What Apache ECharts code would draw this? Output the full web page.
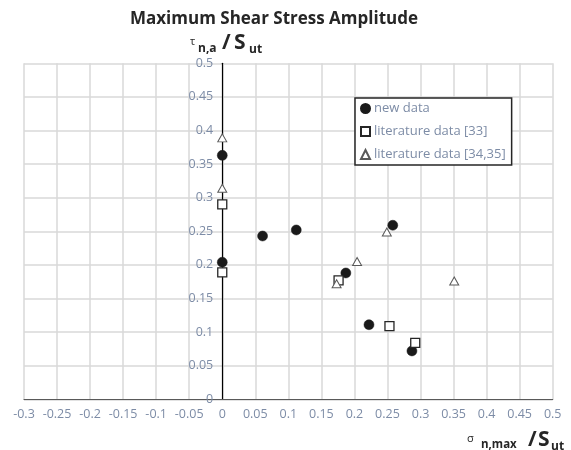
<!DOCTYPE html>
<html>
<head>
<meta charset="utf-8">
<title>Maximum Shear Stress Amplitude</title>
<script src="https://cdn.jsdelivr.net/npm/echarts@6/dist/echarts.min.js"></script>
<style>
  html, body { margin: 0; padding: 0; background: #ffffff; }
  #chart { width: 571px; height: 450px; }
</style>
</head>
<body>
<div id="chart"></div>
<script>
// Normalised stresses: sigma_n,max / S_ut (x) and tau_n,a / S_ut (y)
const newDataX = [0.000, 0.000, 0.061, 0.112, 0.187, 0.222, 0.258, 0.287];
const newDataY = [0.363, 0.204, 0.243, 0.252, 0.188, 0.111, 0.259, 0.072];

const lit33X = [0.000, 0.000, 0.176, 0.253, 0.292];
const lit33Y = [0.290, 0.189, 0.177, 0.109, 0.084];

const lit3435X = [0.000, 0.000, 0.173, 0.204, 0.249, 0.351];
const lit3435Y = [0.389, 0.314, 0.172, 0.205, 0.249, 0.176];

const seriesNames = ['new data', 'literature data [33]', 'literature data [34,35]'];

// Axis ranges and tick step
const xRange = [-0.3, 0.5];
const yRange = [0, 0.5];
const tickStep = 0.05;

const FONT = 'Open Sans';
const LABEL_COLOR = '#7d8ca6';

// Plot area
const GRID = { left: 24, right: 18.3, top: 63.3, bottom: 50.7 };
const CHART_W = 571;
const plotW = CHART_W - GRID.left - GRID.right;
// The vertical axis sits where x = 0, labels included
const yAxisOffset = -((0 - xRange[0]) / (xRange[1] - xRange[0])) * plotW;

function pairs(xs, ys) {
  return xs.map((x, i) => [x, ys[i]]);
}

function fmt(v) {
  return String(Math.round(v * 100) / 100);
}

const chart = echarts.init(document.getElementById('chart'), null, { renderer: 'canvas' });

const txt = (text, x, y, size, bold, align) => ({
  type: 'text',
  x: x, y: y,
  style: {
    text: text,
    font: (bold ? 'bold ' : '') + size + 'px "' + FONT + '"',
    fill: '#262626',
    textAlign: align || 'left',
    textVerticalAlign: 'middle'
  }
});

chart.setOption({
  animation: false,
  backgroundColor: '#ffffff',
  grid: {
    left: GRID.left, right: GRID.right, top: GRID.top, bottom: GRID.bottom,
    containLabel: false, outerBoundsMode: 'none'
  },
  xAxis: {
    type: 'value',
    min: xRange[0], max: xRange[1], interval: tickStep,
    axisLine: { onZero: true, lineStyle: { color: '#595959', width: 1.2 } },
    axisTick: { show: false },
    axisLabel: {
      margin: 9, color: LABEL_COLOR, fontFamily: FONT, fontSize: 12.5,
      formatter: fmt, showMinLabel: true, showMaxLabel: true
    },
    splitLine: { show: true, lineStyle: { color: '#d9d9d9', width: 1.5 } }
  },
  yAxis: {
    type: 'value',
    position: 'left',
    offset: yAxisOffset,
    min: yRange[0], max: yRange[1], interval: tickStep,
    axisLine: { onZero: false, lineStyle: { color: '#000000', width: 1.2 } },
    axisTick: { show: false },
    axisLabel: {
      margin: 9, color: LABEL_COLOR, fontFamily: FONT, fontSize: 12.5,
      formatter: fmt, showMinLabel: true, showMaxLabel: true
    },
    splitLine: { show: true, lineStyle: { color: '#d9d9d9', width: 1.5 } }
  },
  legend: {
    data: seriesNames,
    orient: 'vertical',
    left: 355, top: 98,
    padding: [4, 6, 4, 5],
    itemGap: 10,
    itemWidth: 9, itemHeight: 9,
    backgroundColor: '#ffffff',
    borderColor: '#262626', borderWidth: 1.5, borderRadius: 0,
    textStyle: { color: LABEL_COLOR, fontFamily: FONT, fontSize: 13, padding: [0, 0, 0, -1] }
  },
  series: [
    {
      name: seriesNames[0], type: 'scatter', symbol: 'circle', symbolSize: 10,
      itemStyle: { color: '#1a1a1a', borderColor: '#1a1a1a', borderWidth: 0.5, opacity: 1 },
      data: pairs(newDataX, newDataY), z: 3
    },
    {
      name: seriesNames[1], type: 'scatter', symbol: 'rect', symbolSize: 9,
      itemStyle: { color: '#ffffff', borderColor: '#262626', borderWidth: 1.3, opacity: 1 },
      data: pairs(lit33X, lit33Y), z: 4
    },
    {
      name: seriesNames[2], type: 'scatter', symbol: 'triangle', symbolSize: [9, 8],
      itemStyle: { color: '#ffffff', borderColor: '#595959', borderWidth: 1, opacity: 1 },
      data: pairs(lit3435X, lit3435Y), z: 5
    }
  ],
  graphic: [
    txt('Maximum Shear Stress Amplitude', 274, 19, 17, true, 'center'),
    // y-axis name: tau_{n,a} / S_ut
    txt('\u03c4', 190, 42, 11, false),
    txt('n,a', 198, 49, 12, true),
    txt('/', 222, 43, 21, true),
    txt('S', 234, 43, 21, true),
    txt('ut', 249, 50, 12, true),
    // x-axis name: sigma_{n,max} / S_ut
    txt('\u03c3', 467, 439, 11, false),
    txt('n,max', 481, 445, 11.5, true),
    txt('/', 528, 440, 21, true),
    txt('S', 538, 440, 21, true),
    txt('ut', 551, 447, 12, true)
  ]
});
</script>
</body>
</html>
